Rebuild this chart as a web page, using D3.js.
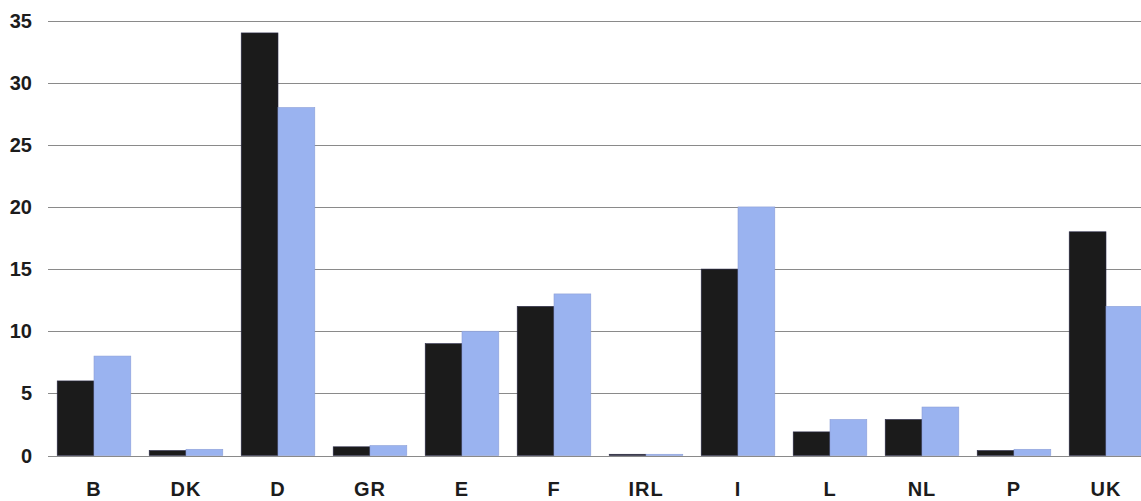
<!DOCTYPE html>
<html><head><meta charset="utf-8">
<script src="https://cdn.jsdelivr.net/npm/d3@7"></script>
<style>
html,body{margin:0;padding:0;background:#fff;}
svg{display:block;}
text{font-family:"Liberation Sans",Arial,sans-serif;font-weight:bold;fill:#1c1c1c;}
</style></head><body>
<svg id="c" width="1141" height="501"></svg>
<script>
const categories = ["B","DK","D","GR","E","F","IRL","I","L","NL","P","UK"];
const seriesA = [6, 0.4, 34, 0.7, 9, 12, 0.1, 15, 1.9, 2.9, 0.4, 18];
const seriesB = [8, 0.5, 28, 0.8, 10, 13, 0.1, 20, 2.9, 3.9, 0.5, 12];
const yTicks = [0,5,10,15,20,25,30,35];

const svg = d3.select("#c");
const y = d3.scaleLinear().domain([0,35]).range([455.5,20.5]);
const x = d3.scaleBand().domain(categories).range([48,1152]).paddingInner(0.2).paddingOuter(0.1);
const x2 = d3.scaleBand().domain(["a","b"]).range([0,x.bandwidth()]);

// gridlines
svg.append("g").selectAll("line").data(yTicks).join("line")
  .attr("x1",48).attr("x2",1141)
  .attr("y1",d=>Math.round(y(d))+0.5).attr("y2",d=>Math.round(y(d))+0.5)
  .attr("stroke","#8a8a8a").attr("stroke-width",1);

// y labels
svg.append("g").selectAll("text").data(yTicks).join("text")
  .attr("x",32).attr("y",d=>y(d)+7).attr("text-anchor","end")
  .attr("font-size",20).text(d=>d);

const g = svg.append("g").selectAll("g").data(categories).join("g")
  .attr("transform",d=>`translate(${x(d)},0)`);
g.append("rect").attr("x",x2("a")).attr("width",x2.bandwidth())
  .attr("y",(d,i)=>y(seriesA[i])).attr("height",(d,i)=>y(0)-y(seriesA[i]))
  .attr("fill","#1b1b1b").attr("stroke","#2a2a48").attr("stroke-width",0.6);
g.append("rect").attr("x",x2("b")).attr("width",x2.bandwidth())
  .attr("y",(d,i)=>y(seriesB[i])).attr("height",(d,i)=>y(0)-y(seriesB[i]))
  .attr("fill","#9ab3f0").attr("stroke","#8c9fd8").attr("stroke-width",0.6);

// x labels
svg.append("g").selectAll("text").data(categories).join("text")
  .attr("x",d=>x(d)+x.bandwidth()/2).attr("y",496).attr("text-anchor","middle")
  .attr("font-size",20).attr("letter-spacing","1px").text(d=>d);
</script>
</body></html>
